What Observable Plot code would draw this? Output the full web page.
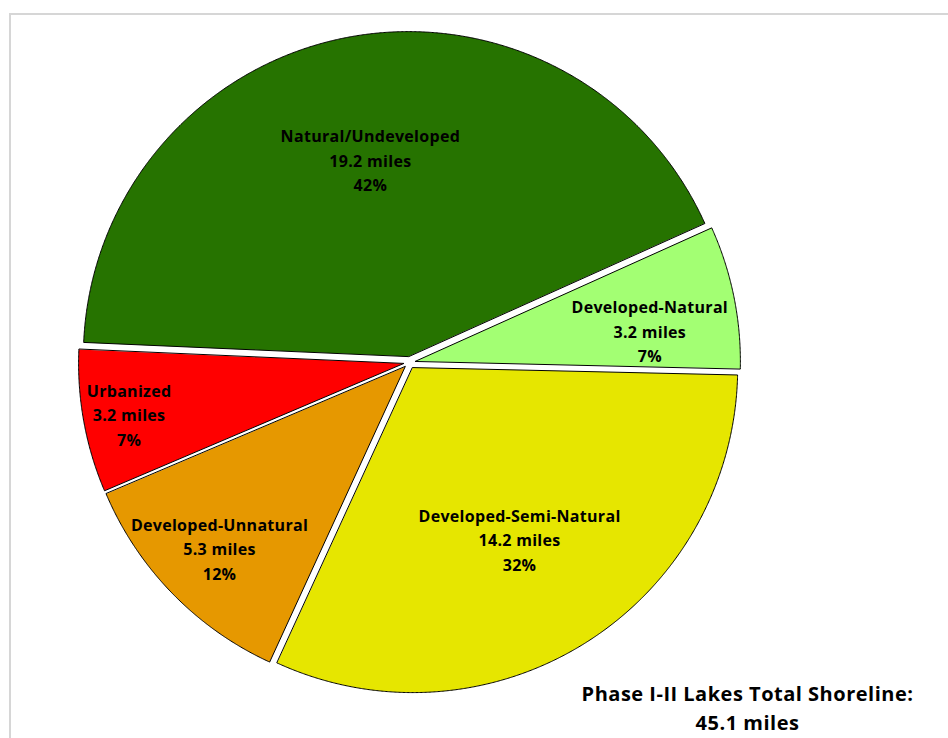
<!DOCTYPE html>
<html><head><meta charset="utf-8">
<script src="https://cdn.jsdelivr.net/npm/d3@7"></script>
<script src="https://cdn.jsdelivr.net/npm/@observablehq/plot@0.6"></script>
<style>
html,body{margin:0;padding:0;background:#fff;overflow:hidden}
#wrap{position:relative;width:948px;height:738px;overflow:hidden}
#chart{position:absolute;left:0;top:0}
#border{position:absolute;left:9px;top:13px;width:1200px;height:1200px;border:2px solid #d6d6d6;box-sizing:border-box;pointer-events:none}
</style></head><body>
<div id="wrap"><div id="chart"></div><div id="border"></div></div>
<script>
// ---- data ----
const categories = ["Natural/Undeveloped", "Developed-Natural", "Developed-Semi-Natural", "Developed-Unnatural", "Urbanized"];
const miles = [19.2, 3.2, 14.2, 5.3, 3.2];
const percentLabels = ["42%", "7%", "32%", "12%", "7%"];
const colors = ["#267300", "#A3FF73", "#E6E600", "#E69800", "#FF0000"];
const titleText = "Phase I-II Lakes Total Shoreline:";
const unit = "miles";

// ---- layout ----
const W = 948, H = 738;
const cx = 409, cy = 362, R = 325, explode = 6;
const startAngle = -87.5 * Math.PI / 180;
const fontFamily = "Open Sans";
const fs = 16, lineH = 1.53, ls = 0.3;
const tfs = 20, tls = 0.5;

const total = d3.sum(miles);
const rows = categories.map((c, i) => ({cat: c, miles: miles[i], pct: percentLabels[i]}));
const arcs = d3.pie().sort(null).value(d => d.miles)
  .startAngle(startAngle).endAngle(startAngle + 2 * Math.PI)(rows);

const pts = [];
const labels = [];
const ctx = document.createElement("canvas").getContext("2d");
ctx.font = `bold ${fs}px "${fontFamily}"`;

arcs.forEach(a => {
  const mid = (a.startAngle + a.endAngle) / 2;
  const ox = cx + explode * Math.sin(mid), oy = cy - explode * Math.cos(mid);
  pts.push({cat: a.data.cat, x: ox, y: oy});
  const n = Math.max(2, Math.ceil((a.endAngle - a.startAngle) / 0.004));
  for (let k = 0; k <= n; k++) {
    const t = a.startAngle + (a.endAngle - a.startAngle) * k / n;
    pts.push({cat: a.data.cat, x: ox + R * Math.sin(t), y: oy - R * Math.cos(t)});
  }
  // label placement ("best fit": centred, pushed toward the rim when cramped)
  const lines = [a.data.cat, `${d3.format(".1f")(a.data.miles)} ${unit}`, a.data.pct];
  const widths = lines.map(s => ctx.measureText(s).width + ls * s.length);
  const lh = fs * lineH, hh = fs * 0.4;
  const a0 = a.startAngle, a1 = a.endAngle;
  const clearXY = (px, py) => {
    let m = Infinity;
    lines.forEach((s, i) => {
      const ly = py + (i - (lines.length - 1) / 2) * lh;
      for (const sx of [-1, 1]) for (const sy of [-1, 1]) {
        const x = px + sx * widths[i] / 2, y = ly + sy * hh;
        const d0 = x * Math.cos(a0) + y * Math.sin(a0);
        const d1 = -x * Math.cos(a1) - y * Math.sin(a1);
        const dr = R - Math.hypot(x, y);
        m = Math.min(m, d0, d1, dr);
      }
    });
    return m;
  };
  const onBis = r => [r * Math.sin(mid), -r * Math.cos(mid)];
  let pos = onBis(0.62 * R);
  if (clearXY(...pos) < 20) {
    let found = null;
    for (let rr = R; rr >= 0.62 * R; rr -= 1) if (clearXY(...onBis(rr)) >= 6) { found = onBis(rr); break; }
    if (found === null) {
      let bc = -Infinity;
      for (let rr = 0.4 * R; rr <= R; rr += 1.5) {
        for (let k = 0; k <= 60; k++) {
          const t = a0 + (a1 - a0) * k / 60;
          const p = [rr * Math.sin(t), -rr * Math.cos(t)];
          const c = clearXY(...p);
          if (c > bc) { bc = c; found = p; }
        }
      }
    }
    pos = found;
  }
  labels.push({x: ox + pos[0], y: oy + pos[1], text: lines.join("\n")});
});

const chart = Plot.plot({
  width: W, height: H, margin: 0,
  style: {background: "transparent"},
  x: {domain: [0, W], range: [0, W], axis: null},
  y: {domain: [0, H], range: [0, H], axis: null},
  color: {domain: categories, range: colors},
  marks: [
    Plot.line(pts, {x: "x", y: "y", z: "cat", fill: "cat", stroke: "#000", strokeWidth: 1, curve: "linear-closed"}),
    Plot.text(labels, {x: "x", y: "y", text: "text", fontSize: fs, fontWeight: "bold", fontFamily, lineHeight: lineH, fill: "#000"}),
    Plot.text([`${titleText}\n${d3.format(".1f")(total)} ${unit}`], {
      text: d => d, frameAnchor: "bottom-right", textAnchor: "middle", lineAnchor: "bottom",
      dx: -201, dy: -9, fontSize: tfs, fontWeight: "bold", fontFamily, lineHeight: 1.45, fill: "#000"
    })
  ]
});
const groups = chart.querySelectorAll('g[aria-label="text"]');
if (groups[0]) groups[0].style.letterSpacing = ls + "px";
if (groups[1]) groups[1].style.letterSpacing = tls + "px";
document.getElementById("chart").appendChild(chart);
</script>
</body></html>
